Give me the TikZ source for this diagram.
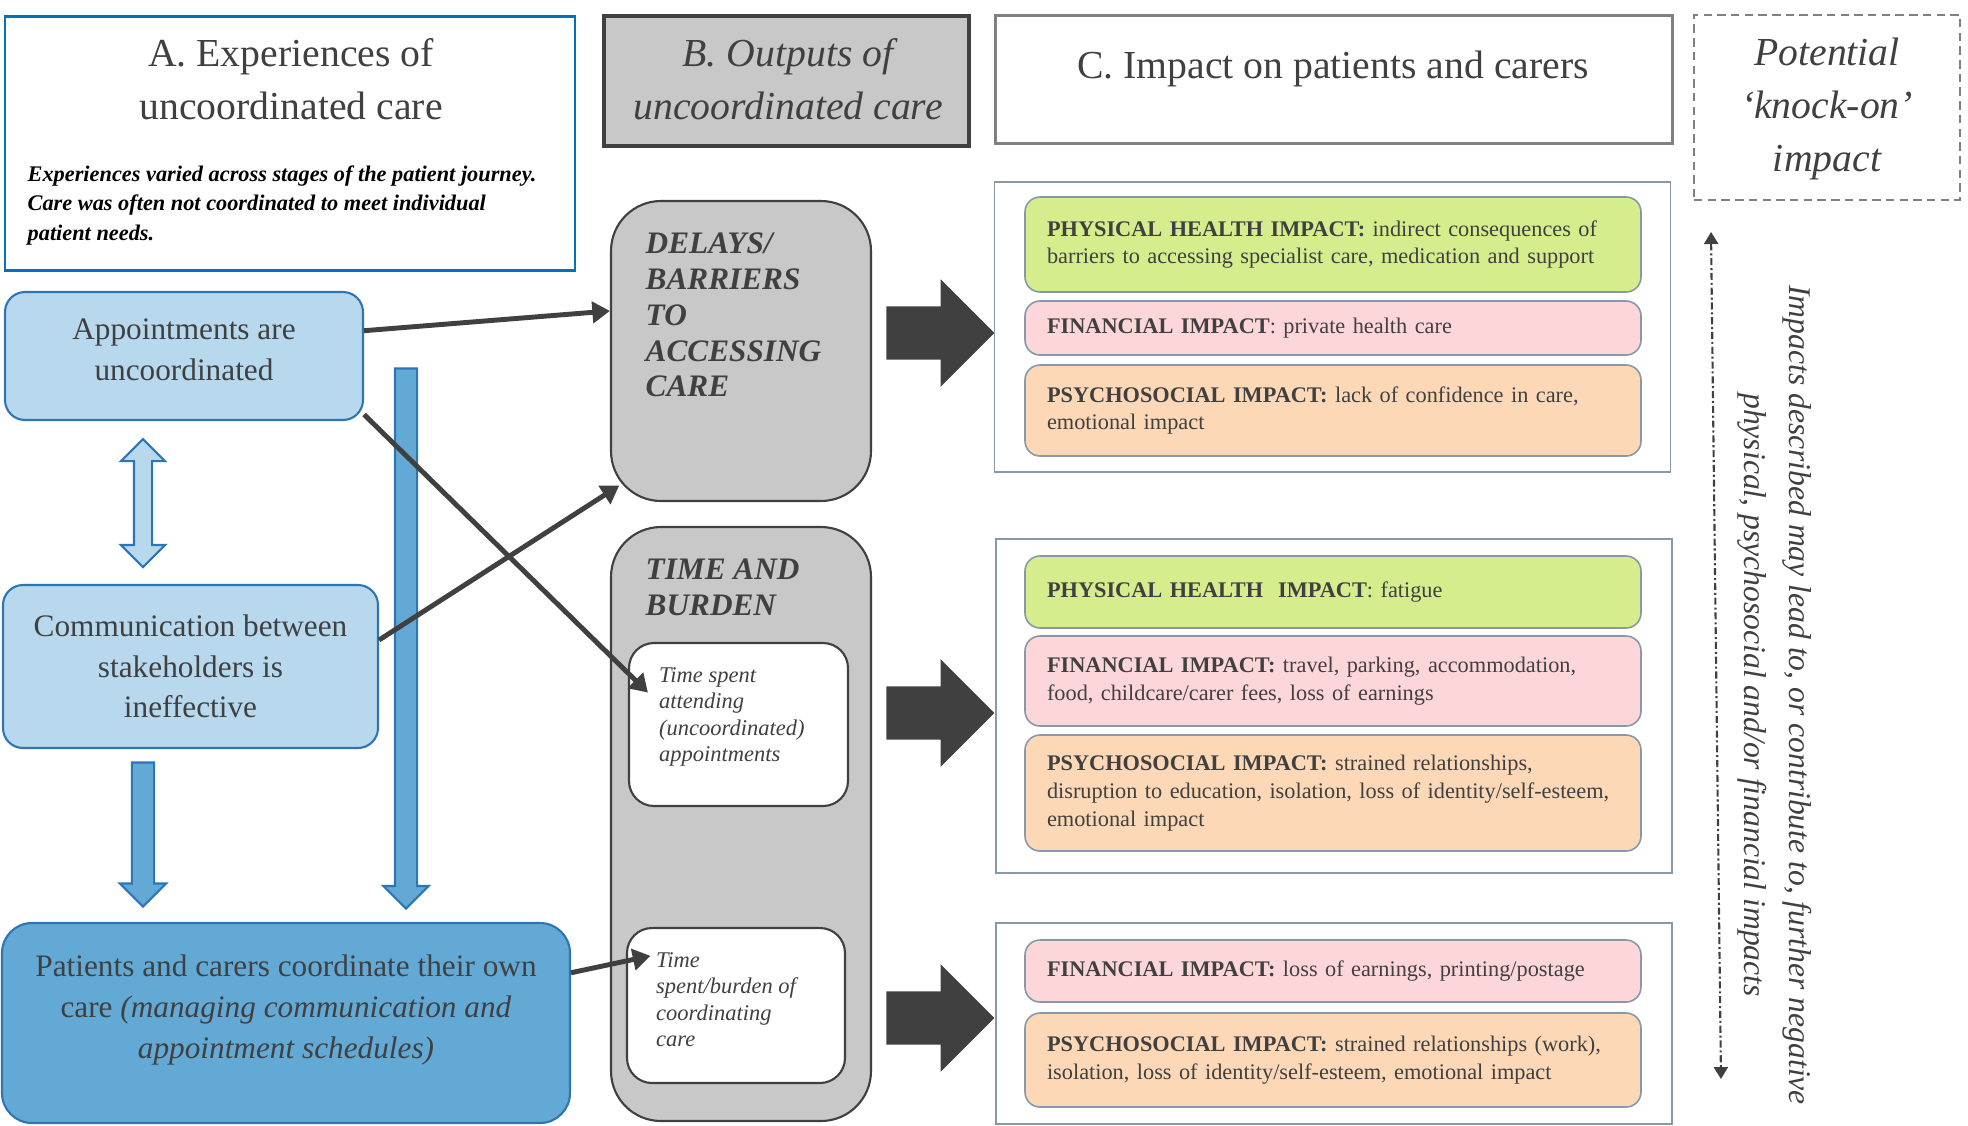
\documentclass[tikz,border=0pt]{standalone}
\usepackage{fontspec}
\setmainfont{Liberation Serif}
\usepackage{tikz}
\usetikzlibrary{arrows.meta,shapes.arrows}
\definecolor{txt}{RGB}{64,64,64}
\definecolor{hdrblue}{RGB}{0,112,192}
\definecolor{edgeblue}{RGB}{46,117,182}
\definecolor{lightblue}{RGB}{183,216,237}
\definecolor{midblue}{RGB}{99,169,213}
\definecolor{boxgray}{RGB}{200,200,200}
\definecolor{darkline}{RGB}{64,64,64}
\definecolor{hdrgray}{RGB}{128,128,128}
\definecolor{greenfill}{RGB}{214,237,142}
\definecolor{pinkfill}{RGB}{253,214,218}
\definecolor{peachfill}{RGB}{252,216,183}
\definecolor{impedge}{RGB}{135,152,168}
\tikzset{>/.tip={Triangle[length=5pt,width=6pt]},
  hdrbox/.style={rectangle, inner sep=0, line width=0.85pt},
  hdrtext/.style={text=txt, font=\fontsize{11.3}{15.1}\selectfont, align=center, inner sep=0},
  leftbox/.style={rectangle, rounded corners=0.2cm, draw=edgeblue, line width=0.6pt, text=txt, font=\fontsize{8.9}{11.6}\selectfont, align=center, inner sep=0},
  bluearrow/.style={single arrow, draw=edgeblue, fill=midblue, line width=0.6pt, inner xsep=0, inner ysep=0.10cm, single arrow tip angle=90},
  graybox/.style={rectangle, rounded corners=0.5cm, draw=darkline, fill=boxgray, line width=0.6pt, inner sep=0},
  graytext/.style={text=txt, font=\fontsize{8.9}{10.2}\selectfont\bfseries\itshape, align=left, inner sep=0},
  innerbox/.style={rectangle, rounded corners=0.25cm, draw=darkline, fill=white, line width=0.6pt, inner sep=0},
  innertext/.style={text=txt, font=\fontsize{6.4}{7.5}\selectfont\itshape, align=left, inner sep=0},
  blockarrow/.style={single arrow, fill=darkline, minimum height=1.08cm, inner xsep=0, inner ysep=0.26cm, single arrow head extend=0.27cm, single arrow tip angle=90},
  grpbox/.style={rectangle, draw=impedge, line width=0.45pt, minimum width=6.76cm, inner sep=0},
  impbox/.style={rectangle, rounded corners=0.15cm, draw=impedge, line width=0.45pt, minimum width=6.16cm, text width=5.72cm, inner xsep=0.22cm, inner ysep=0, align=left, text=txt, font=\fontsize{6.35}{7.9}\selectfont},
  conn/.style={->, draw=darkline, line width=1.4pt}}

\begin{document}
\begin{tikzpicture}
\useasboundingbox (0,0) rectangle (19.68,-11.25);

\node[hdrbox, draw=hdrblue, minimum width=5.70cm, minimum height=2.54cm] (hdrA) at (2.90,-1.43) {};
\node[hdrtext] (titleA) at (2.91,-0.79) {A. Experiences of\\uncoordinated care};
\node[anchor=west, inner sep=0, align=left, font=\fontsize{6.35}{8.4}\selectfont\bfseries\itshape] (noteA) at (0.27,-2.055) {Experiences varied across stages of the patient journey.\\Care was often not coordinated to meet individual\\patient needs.};
\node[hdrbox, draw=darkline, line width=1.1pt, fill=boxgray, minimum width=3.65cm, minimum height=1.30cm] (hdrB) at (7.865,-0.81) {};
\node[hdrtext, font=\fontsize{11.3}{15.1}\selectfont\itshape] (titleB) at (7.88,-0.79) {B. Outputs of\\uncoordinated care};
\node[hdrbox, draw=hdrgray, minimum width=6.77cm, minimum height=1.28cm] (hdrC) at (13.335,-0.79) {};
\node[hdrtext] (titleC) at (13.33,-0.69) {C. Impact on patients and carers};
\node[hdrbox, draw=hdrgray, line width=0.7pt, dash pattern=on 2.4pt off 1.5pt, minimum width=2.66cm, minimum height=1.85cm] (hdrD) at (18.27,-1.075) {};
\node[hdrtext, font=\fontsize{11.3}{15.1}\selectfont\itshape] (titleD) at (18.27,-1.09) {Potential\\‘knock-on’\\impact};

\node[leftbox, fill=lightblue, minimum width=3.58cm, minimum height=1.28cm] (appt) at (1.84,-3.56) {};
\node[leftbox, draw=none, fill=none] (apptT) at (1.84,-3.50) {Appointments are\\uncoordinated};
\node[leftbox, fill=lightblue, minimum width=3.75cm, minimum height=1.63cm] (comm) at (1.905,-6.665) {Communication between\\stakeholders is\\ineffective};
\node[leftbox, fill=midblue, rounded corners=0.3cm, minimum width=5.68cm, minimum height=2.00cm] (patients) at (2.86,-10.23) {};
\node[leftbox, draw=none, fill=none] (patientsT) at (2.86,-10.10) {Patients and carers coordinate their own\\care \textit{(managing communication and}\\\textit{appointment schedules)}};

\node[double arrow, draw=edgeblue, fill=lightblue, line width=0.6pt, inner xsep=0, inner ysep=0.08cm, double arrow tip angle=90, minimum height=1.28cm, double arrow head extend=0.13cm, rotate=90] (link) at (1.43,-5.03) {};
\node[bluearrow, minimum height=1.44cm, single arrow head extend=0.12cm, rotate=-90] (down1) at (1.43,-8.29) {};
\node[bluearrow, minimum height=5.40cm, single arrow head extend=0.115cm, rotate=-90] (down2) at (4.06,-6.33) {};

\node[graybox, minimum width=2.60cm, minimum height=3.00cm] (delays) at (7.41,-3.51) {};
\node[graytext] (delaysT) at (6.45,-3.15) [anchor=west] {DELAYS/\\BARRIERS\\TO\\ACCESSING\\CARE};
\node[graybox, minimum width=2.60cm, minimum height=5.94cm] (timeb) at (7.41,-8.24) {};
\node[graytext] (timebT) at (6.45,-5.875) [anchor=west] {TIME AND\\BURDEN};
\node[innerbox, minimum width=2.19cm, minimum height=1.63cm] (attend) at (7.385,-7.245) {};
\node[innertext] (attendT) at (6.585,-7.17) [anchor=west] {Time spent\\attending\\(uncoordinated)\\appointments};
\node[innerbox, minimum width=2.18cm, minimum height=1.55cm] (selfco) at (7.36,-10.055) {};
\node[innertext] (selfcoT) at (6.555,-9.995) [anchor=west] {Time\\spent/burden of\\coordinating\\care};

\node[blockarrow] (flow1) at (9.27,-3.33) {};
\node[blockarrow] (flow2) at (9.27,-7.13) {};
\node[blockarrow] (flow3) at (9.27,-10.18) {};

\node[grpbox, minimum height=2.90cm] (grp1) at (13.325,-3.27) {};
\node[impbox, fill=greenfill, minimum height=0.95cm] (phys1) at (13.33,-2.445) {\textbf{PHYSICAL HEALTH IMPACT:} indirect consequences of\\barriers to accessing specialist care, medication and support};
\node[impbox, fill=pinkfill, minimum height=0.54cm] (fin1) at (13.33,-3.28) {\textbf{FINANCIAL IMPACT}: private health care};
\node[impbox, fill=peachfill, minimum height=0.91cm] (psy1) at (13.33,-4.105) {\textbf{PSYCHOSOCIAL IMPACT:} lack of confidence in care,\\emotional impact};

\node[grpbox, minimum height=3.34cm] (grp2) at (13.34,-7.06) {};
\node[impbox, fill=greenfill, minimum height=0.72cm] (phys2) at (13.33,-5.92) {\textbf{PHYSICAL HEALTH\ \ IMPACT}: fatigue};
\node[impbox, fill=pinkfill, minimum height=0.90cm] (fin2) at (13.33,-6.81) {\textbf{FINANCIAL IMPACT:} travel, parking, accommodation,\\food, childcare/carer fees, loss of earnings};
\node[impbox, fill=peachfill, minimum height=1.16cm] (psy2) at (13.33,-7.93) {\textbf{PSYCHOSOCIAL IMPACT:} strained relationships,\\disruption to education, isolation, loss of identity/self-esteem,\\emotional impact};

\node[grpbox, minimum height=2.01cm] (grp3) at (13.34,-10.235) {};
\node[impbox, fill=pinkfill, minimum height=0.62cm] (fin3) at (13.33,-9.71) {\textbf{FINANCIAL IMPACT:} loss of earnings, printing/postage};
\node[impbox, fill=peachfill, minimum height=0.94cm] (psy3) at (13.33,-10.60) {\textbf{PSYCHOSOCIAL IMPACT:} strained relationships (work),\\isolation, loss of identity/self-esteem, emotional impact};

\coordinate (ktop) at (17.11,-2.32);
\coordinate (kbot) at (17.21,-10.79);
\node[rotate=-90, align=center, inner sep=0, text=txt, font=\fontsize{9}{12.8}\selectfont\itshape] (knock) at (17.745,-6.95) {Impacts described may lead to, or contribute to, further negative\\physical, psychosocial and/or financial impacts};

\path (appt.8.6) edge[conn] (delays.163);
\path (appt.-18) edge[conn, shorten >=-0.28cm] (attend.155);
\path (comm.8.6) edge[conn, shorten >=-0.11cm] (delays.-133);
\path (patients.10.4) edge[conn, shorten >=-0.25cm] (selfco.158);
\draw[{Triangle[length=3.4pt,width=4pt]}-{Triangle[length=3.4pt,width=4pt]}, draw=darkline, line width=0.6pt, dash pattern=on 2pt off 0.8pt on 0.6pt off 0.8pt] (ktop) -- (kbot);
\end{tikzpicture}
\end{document}
